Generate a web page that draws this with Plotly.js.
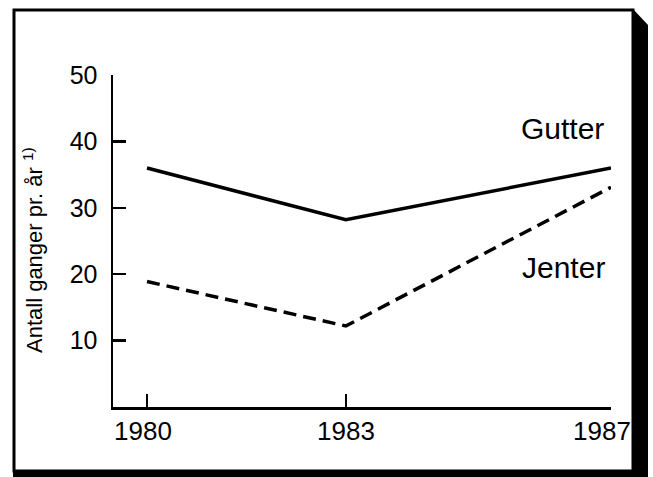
<!DOCTYPE html>
<html>
<head>
<meta charset="utf-8">
<script src="https://cdn.plot.ly/plotly-3.0.1.min.js"></script>
<style>html,body{margin:0;padding:0;background:#fff;}#chart{width:653px;height:477px;}</style>
</head>
<body>
<div id="chart"></div>
<script>
// Data
const years = [1980, 1983, 1987];
const yearLabels = ["1980", "1983", "1987"];
const gutter = [36.0, 28.2, 36.0];
const jenter = [18.9, 12.2, 33.1];
const yTicks = [10, 20, 30, 40, 50];
const seriesNames = ["Gutter", "Jenter"];
const yTitle = "Antall ganger pr. år <sup>1)</sup>";

// Layout geometry
const W = 653, H = 477;
const M = {l: 113, r: 42, t: 75, b: 70};
const PW = W - M.l - M.r, PH = H - M.t - M.b;
const px = x => (x - M.l) / PW;
const py = y => (H - M.b - y) / PH;

const font = "Liberation Sans, Arial, Helvetica, sans-serif";
const labelShift = [-4, 0, -9];

const traces = [
  {x: years, y: gutter, mode: "lines", name: seriesNames[0],
   line: {color: "#000", width: 3.5}},
  {x: years, y: jenter, mode: "lines", name: seriesNames[1],
   line: {color: "#000", width: 3.5, dash: "13px,7px"}}
];

const shadowPath = "M " + px(633) + "," + py(9) + " L " + px(648) + "," + py(25) +
  " L " + px(648) + "," + py(477) + " L " + px(13) + "," + py(477) +
  " L " + px(13) + "," + py(471) + " L " + px(633) + "," + py(471) + " Z";

const annotations = [
  {xref: "paper", yref: "paper", x: px(33), y: py(250), text: yTitle, textangle: -90,
   showarrow: false, xanchor: "center", yanchor: "middle",
   font: {family: font, size: 22, color: "#000"}},
  {xref: "paper", yref: "paper", x: px(562), y: py(128), text: seriesNames[0],
   showarrow: false, xanchor: "center", yanchor: "middle",
   font: {family: font, size: 30, color: "#000"}},
  {xref: "paper", yref: "paper", x: px(563), y: py(267), text: seriesNames[1],
   showarrow: false, xanchor: "center", yanchor: "middle",
   font: {family: font, size: 30, color: "#000"}}
];
years.forEach((yr, i) => {
  annotations.push({xref: "x", yref: "paper", x: yr, y: py(431), text: yearLabels[i],
    showarrow: false, xanchor: "center", yanchor: "middle", xshift: labelShift[i],
    font: {family: font, size: 26, color: "#000"}});
});

const layout = {
  width: W, height: H,
  margin: M,
  paper_bgcolor: "#fff", plot_bgcolor: "#fff",
  showlegend: false,
  xaxis: {
    range: [1979.487, 1987], tickvals: years, showticklabels: false,
    showgrid: false, zeroline: false, showline: true, linecolor: "#000", linewidth: 2.5,
    ticks: "inside", ticklen: 13, tickwidth: 2.5, tickcolor: "#000"
  },
  yaxis: {
    range: [0, 50], tickvals: yTicks,
    showgrid: false, zeroline: false, showline: true, linecolor: "#000", linewidth: 2.5,
    ticks: "inside", ticklen: 13, tickwidth: 2.5, tickcolor: "#000",
    ticklabelstandoff: 8,
    tickfont: {family: font, size: 25, color: "#000"}
  },
  shapes: [
    {type: "rect", xref: "paper", yref: "paper", x0: px(14), x1: px(633), y0: py(471), y1: py(10),
     line: {color: "#000", width: 3}, fillcolor: "rgba(0,0,0,0)", layer: "below"},
    {type: "path", xref: "paper", yref: "paper", path: shadowPath,
     fillcolor: "#000", line: {color: "#000", width: 0}}
  ],
  annotations: annotations
};

Plotly.newPlot("chart", traces, layout, {displayModeBar: false, staticPlot: true});
</script>
</body>
</html>
